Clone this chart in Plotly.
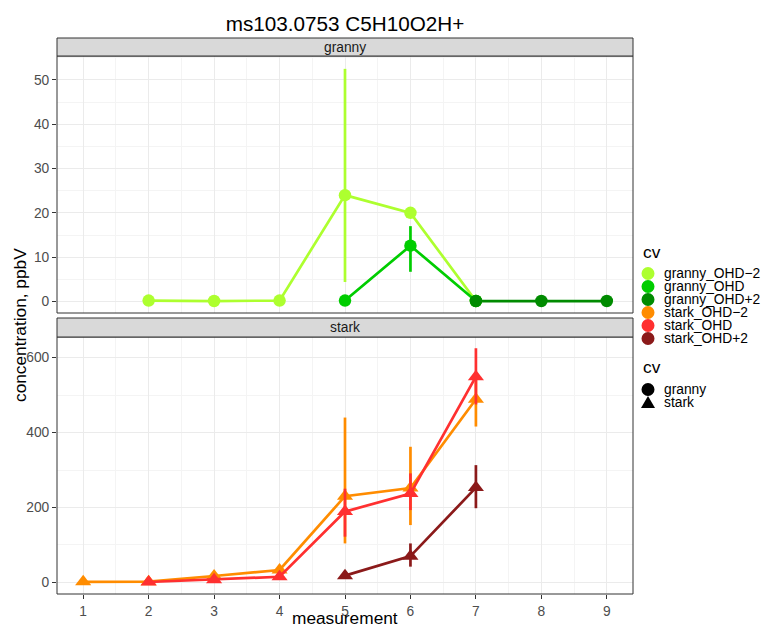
import plotly.graph_objects as go
from plotly.subplots import make_subplots

# ---- data ----
series_names = ["granny_OHD−2", "granny_OHD", "granny_OHD+2",
                "stark_OHD−2", "stark_OHD", "stark_OHD+2"]
series_panel = ["granny", "granny", "granny", "stark", "stark", "stark"]
series_colors = ["#ADFF2F", "#00CD00", "#008B00", "#FF8C00", "#FF3030", "#8B1A1A"]

g_m2_x = [2, 3, 4, 5, 6, 7]
g_m2_y = [0.2, 0.1, 0.2, 24.0, 20.0, 0.1]
g_m2_lo = [0.2, 0.1, 0.2, 4.4, 19.0, 0.1]
g_m2_hi = [0.2, 0.1, 0.2, 52.5, 21.0, 0.1]

g_0_x = [5, 6, 7]
g_0_y = [0.2, 12.6, 0.1]
g_0_lo = [0.2, 6.7, 0.1]
g_0_hi = [0.2, 17.0, 0.1]

g_p2_x = [7, 8, 9]
g_p2_y = [0.1, 0.1, 0.1]
g_p2_lo = [0.1, 0.1, 0.1]
g_p2_hi = [0.1, 0.1, 0.1]

s_m2_x = [1, 2, 3, 4, 5, 6, 7]
s_m2_y = [1.5, 2, 17, 33, 230, 252, 489]
s_m2_lo = [1.5, 2, 17, 33, 104, 153, 416]
s_m2_hi = [1.5, 2, 17, 33, 440, 362, 555]

s_0_x = [2, 3, 4, 5, 6, 7]
s_0_y = [1, 7, 15, 189, 237, 549]
s_0_lo = [1, 7, 15, 122, 193, 475]
s_0_hi = [1, 7, 15, 250, 291, 625]

s_p2_x = [5, 6, 7]
s_p2_y = [18, 70, 253]
s_p2_lo = [18, 42, 198]
s_p2_hi = [18, 104, 313]

series_x = [g_m2_x, g_0_x, g_p2_x, s_m2_x, s_0_x, s_p2_x]
series_y = [g_m2_y, g_0_y, g_p2_y, s_m2_y, s_0_y, s_p2_y]
series_lo = [g_m2_lo, g_0_lo, g_p2_lo, s_m2_lo, s_0_lo, s_p2_lo]
series_hi = [g_m2_hi, g_0_hi, g_p2_hi, s_m2_hi, s_0_hi, s_p2_hi]

panels = ["granny", "stark"]
shape_names = ["granny", "stark"]
legend_title = "cv"

title_text = "ms103.0753 C5H10O2H+"
x_title = "measurement"
y_title = "concentration, ppbV"
x_ticks = [1, 2, 3, 4, 5, 6, 7, 8, 9]
top_ticks = [0, 10, 20, 30, 40, 50]
bot_ticks = [0, 200, 400, 600]

FONT = "Liberation Sans, Arial, sans-serif"
W, H = 761, 625
ML, MR, MT, MB = 57, 128, 38, 31
PW, PH = W - ML - MR, H - MT - MB


def px_x(px):
    return (px - ML) / PW


def px_y(py):
    return (H - MB - py) / PH


fig = make_subplots(rows=2, cols=1, shared_xaxes=False, vertical_spacing=0.04)

for i, name in enumerate(series_names):
    row = 1 if series_panel[i] == "granny" else 2
    sym = "circle" if series_panel[i] == "granny" else "triangle-up"
    msize = 12.5 if sym == "circle" else 14
    y = series_y[i]
    plus = [h - v for h, v in zip(series_hi[i], y)]
    minus = [v - l for v, l in zip(y, series_lo[i])]
    fig.add_trace(go.Scatter(
        x=series_x[i], y=y, mode="lines+markers", name=name,
        line=dict(color=series_colors[i], width=2.7),
        marker=dict(color=series_colors[i], size=msize, symbol=sym),
        error_y=dict(type="data", symmetric=False, array=plus, arrayminus=minus,
                     color=series_colors[i], thickness=2.7, width=0),
        showlegend=False, hoverinfo="skip"), row=row, col=1)

y_top = [px_y(313), px_y(56)]
y_bot = [px_y(594), px_y(337)]

axis_common = dict(showline=False, zeroline=False, gridcolor="#EBEBEB", gridwidth=1,
                   ticks="outside", ticklen=4, tickcolor="#333333", automargin=False,
                   tickfont=dict(size=13.8, color="#4D4D4D", family=FONT))

fig.update_xaxes(range=[0.6, 9.4], tickvals=x_ticks, **axis_common,
                 minor=dict(showgrid=True, gridcolor="#F4F4F4", tick0=0.5, dtick=1, ticks=""))
fig.update_xaxes(showticklabels=False, ticks="", row=1, col=1)

fig.update_yaxes(**axis_common)
fig.update_yaxes(range=[-2.6, 55.4], tickvals=top_ticks,
                 minor=dict(showgrid=True, gridcolor="#F4F4F4", tick0=5, dtick=10, ticks=""),
                 domain=y_top, row=1, col=1)
fig.update_yaxes(range=[-31, 655], tickvals=bot_ticks,
                 minor=dict(showgrid=True, gridcolor="#F4F4F4", tick0=100, dtick=200, ticks=""),
                 domain=y_bot, row=2, col=1)

shapes = []
annotations = []
for dom in (y_top, y_bot):
    shapes.append(dict(type="rect", xref="paper", yref="paper", x0=0, x1=1, y0=dom[0], y1=dom[1],
                       line=dict(color="#333333", width=1), fillcolor="rgba(0,0,0,0)", layer="above"))
strip_ranges = [(px_y(56), px_y(38)), (px_y(337), px_y(318))]
for (s0, s1), label in zip(strip_ranges, panels):
    shapes.append(dict(type="rect", xref="paper", yref="paper", x0=0, x1=1, y0=s0, y1=s1,
                       line=dict(color="#333333", width=1), fillcolor="#D9D9D9", layer="above"))
    annotations.append(dict(text=label, xref="paper", yref="paper", x=0.5, y=(s0 + s1) / 2,
                            showarrow=False, xanchor="center", yanchor="middle",
                            font=dict(size=13.8, color="#1A1A1A", family=FONT)))

annotations.append(dict(text=y_title, xref="paper", yref="paper", x=px_x(20), y=px_y(325),
                        textangle=-90, showarrow=False, xanchor="center", yanchor="middle",
                        font=dict(size=17.3, color="#000000", family=FONT)))
annotations.append(dict(text=x_title, xref="paper", yref="paper", x=0.5, y=px_y(618),
                        showarrow=False, xanchor="center", yanchor="middle", height=14,
                        font=dict(size=17.3, color="#000000", family=FONT)))

# ---- manual legend (ggplot-style compact spacing) ----
leg_marker_x = px_x(648)
leg_text_x = px_x(662)
annotations.append(dict(text=legend_title, xref="paper", yref="paper", x=px_x(641), y=px_y(252),
                        showarrow=False, xanchor="left", yanchor="middle",
                        font=dict(size=17.3, color="#000000", family=FONT)))
col_rows = [273.5, 286.5, 299.5, 312.5, 325.5, 338.5]
for name, col, py in zip(series_names, series_colors, col_rows):
    shapes.append(dict(type="circle", xref="paper", yref="paper", xsizemode="pixel", ysizemode="pixel",
                       xanchor=leg_marker_x, yanchor=px_y(py), x0=-6.5, x1=6.5, y0=-6.5, y1=6.5,
                       fillcolor=col, line=dict(width=0), layer="above"))
    annotations.append(dict(text=name, xref="paper", yref="paper", x=leg_text_x, y=px_y(py),
                            showarrow=False, xanchor="left", yanchor="middle",
                            font=dict(size=13.8, color="#000000", family=FONT)))
annotations.append(dict(text=legend_title, xref="paper", yref="paper", x=px_x(641), y=px_y(367),
                        showarrow=False, xanchor="left", yanchor="middle",
                        font=dict(size=17.3, color="#000000", family=FONT)))
shp_rows = [389.5, 402.5]
shapes.append(dict(type="circle", xref="paper", yref="paper", xsizemode="pixel", ysizemode="pixel",
                   xanchor=leg_marker_x, yanchor=px_y(shp_rows[0]), x0=-6.5, x1=6.5, y0=-6.5, y1=6.5,
                   fillcolor="#000000", line=dict(width=0), layer="above"))
shapes.append(dict(type="path", xref="paper", yref="paper", xsizemode="pixel", ysizemode="pixel",
                   xanchor=leg_marker_x, yanchor=px_y(shp_rows[1]),
                   path="M -7,-5.5 L 7,-5.5 L 0,6.5 Z",
                   fillcolor="#000000", line=dict(width=0), layer="above"))
for name, py in zip(shape_names, shp_rows):
    annotations.append(dict(text=name, xref="paper", yref="paper", x=leg_text_x, y=px_y(py),
                            showarrow=False, xanchor="left", yanchor="middle",
                            font=dict(size=13.8, color="#000000", family=FONT)))

fig.update_layout(
    width=W, height=H,
    margin=dict(l=ML, r=MR, t=MT, b=MB, autoexpand=False),
    paper_bgcolor="white", plot_bgcolor="white",
    font=dict(family=FONT, color="#000000"),
    title=dict(text=title_text, xref="paper", x=0.5, xanchor="center",
               yref="container", y=1 - 24 / H, yanchor="middle",
               font=dict(size=20.7, color="#000000", family=FONT)),
    shapes=shapes, annotations=annotations, showlegend=False,
)

fig.write_html("out.html", config={"displayModeBar": False},
               post_script="document.body.style.margin='0';document.body.style.overflow='hidden';")
